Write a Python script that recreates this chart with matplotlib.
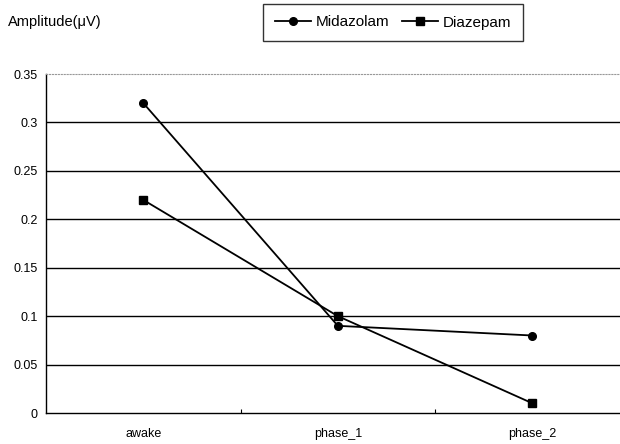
import matplotlib
matplotlib.use("Agg")
import matplotlib.pyplot as plt

plt.rcParams['font.family'] = ['Liberation Sans', 'DejaVu Sans']

categories = ["awake", "phase_1", "phase_2"]
midazolam = [0.32, 0.09, 0.08]
diazepam = [0.22, 0.10, 0.01]
yticks = [0, 0.05, 0.1, 0.15, 0.2, 0.25, 0.3, 0.35]
ytick_labels = ["0", "0.05", "0.1", "0.15", "0.2", "0.25", "0.3", "0.35"]

fig = plt.figure(figsize=(6.2, 4.44), dpi=100)
# axes: x 46..620 px, y 74..413 px
ax = fig.add_axes([46 / 620, (444 - 413) / 444, (620 - 46) / 620, (413 - 74) / 444])

x = range(len(categories))
ax.plot(x, midazolam, 'o-', color='black', lw=1.3, ms=5.5, label='Midazolam', zorder=3)
ax.plot(x, diazepam, 's-', color='black', lw=1.3, ms=5.5, label='Diazepam', zorder=3)

ax.set_xlim(-0.5, 2.45)
ax.set_ylim(0, 0.35)
ax.set_yticks(yticks)
ax.set_yticklabels(ytick_labels, fontsize=9)
for y in yticks[1:-1]:
    ax.axhline(y, color='black', lw=1.0, zorder=1)

ax.set_xticks(list(x))
ax.set_xticklabels(categories, fontsize=9)
ax.tick_params(axis='x', length=0, pad=11)
ax.set_xticks([0.5, 1.5], minor=True)
ax.tick_params(axis='x', which='minor', direction='in', length=3, width=0.8)
ax.tick_params(axis='y', length=0, pad=6)

ax.spines['right'].set_visible(False)
ax.spines['top'].set_color('#999999')
ax.spines['top'].set_linestyle(':')
ax.spines['top'].set_linewidth(0.8)
ax.spines['left'].set_linewidth(1.0)
ax.spines['bottom'].set_linewidth(1.0)

fig.text(8 / 620, 1 - 22 / 444, "Amplitude(\u03bcV)", fontsize=10.5, va='center', ha='left')

leg = ax.legend(loc='center', ncol=2, frameon=True, fancybox=False,
                fontsize=11, handlelength=2.4, handletextpad=0.3, columnspacing=0.8,
                borderpad=0.75, borderaxespad=0, edgecolor='black')
leg.set_bbox_to_anchor((393 / 620, 1 - 22.5 / 444), transform=fig.transFigure)
leg.get_frame().set_linewidth(1.0)

fig.savefig("out.png", dpi=100)
